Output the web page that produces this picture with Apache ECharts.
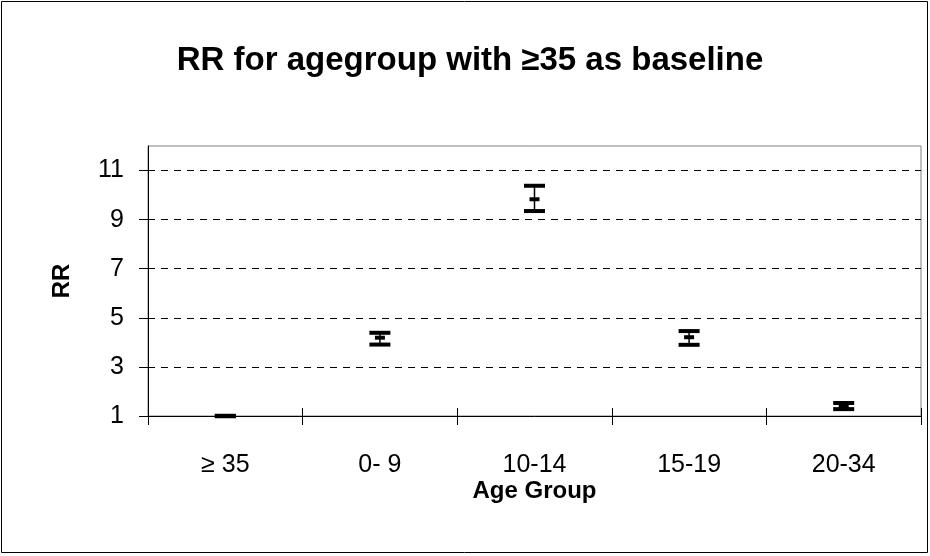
<!DOCTYPE html>
<html>
<head>
<meta charset="utf-8">
<script src="https://cdn.jsdelivr.net/npm/echarts@6/dist/echarts.min.js"></script>
<style>html,body{margin:0;padding:0;background:#fff}#c{width:930px;height:556px}</style>
</head>
<body>
<div id="c"></div>
<script>
const categories = ['\u2265 35', '0- 9', '10-14', '15-19', '20-34'];
const rrValues = [1.0, 4.19, 9.83, 4.21, 1.41];
const ciLow = [0.99, 3.91, 9.35, 3.90, 1.28];
const ciHigh = [1.01, 4.39, 10.38, 4.46, 1.53];
const yTicks = [1, 3, 5, 7, 9, 11];

const FONT = '"Liberation Sans", Arial, sans-serif';
const chart = echarts.init(document.getElementById('c'));
const data = categories.map((c, i) => [i, rrValues[i], ciLow[i], ciHigh[i]]);

chart.setOption({
  backgroundColor: '#fff',
  animation: false,
  title: {
    text: 'RR for agegroup with \u226535 as baseline',
    left: 465, top: 39, textAlign: 'center',
    textStyle: { fontFamily: FONT, fontSize: 33, fontWeight: 'bold', color: '#000' }
  },
  graphic: [{
    type: 'rect', shape: { x: 1.5, y: 1.5, width: 926, height: 551 },
    style: { fill: 'none', stroke: '#000', lineWidth: 1 }, silent: true, z: -1
  }],
  grid: { left: 148, right: 9, top: 146, bottom: 140, show: true, borderColor: '#808080', borderWidth: 1, backgroundColor: 'transparent' },
  xAxis: [{
    type: 'category', data: categories,
    name: 'Age Group', nameLocation: 'middle', nameGap: 59,
    nameTextStyle: { fontFamily: FONT, fontSize: 24, fontWeight: 'bold', color: '#000' },
    axisLine: { lineStyle: { color: '#000', width: 1 } },
    axisTick: { show: true, alignWithLabel: false, length: 9, lineStyle: { color: '#000' } },
    axisLabel: { fontFamily: FONT, fontSize: 25, color: '#000', margin: 37 },
    splitLine: { show: false }
  }, {
    type: 'category', data: categories, position: 'bottom',
    axisLine: { show: false },
    axisTick: { show: true, inside: true, length: 8, lineStyle: { color: '#000' } },
    axisLabel: { show: false }, splitLine: { show: false }
  }],
  yAxis: {
    type: 'value', min: 1, max: 12, interval: 2,
    name: 'RR', nameLocation: 'middle', nameGap: 74, nameRotate: 90,
    nameTextStyle: { fontFamily: FONT, fontSize: 24, fontWeight: 'bold', color: '#000' },
    axisLine: { show: true, lineStyle: { color: '#000', width: 1 } },
    axisTick: { show: true, length: 9, customValues: yTicks, lineStyle: { color: '#000' } },
    axisLabel: { fontFamily: FONT, fontSize: 25, color: '#000', margin: 24, customValues: yTicks },
    splitLine: { show: true, showMinLine: false, lineStyle: { color: '#000', type: [7, 6], width: 1 } }
  },
  series: [{
    type: 'custom',
    data: data,
    encode: { x: 0, y: [1, 2, 3] },
    renderItem: function (params, api) {
      const x = api.value(0);
      const pMid = api.coord([x, api.value(1)]);
      const pLow = api.coord([x, api.value(2)]);
      const pHigh = api.coord([x, api.value(3)]);
      const cx = pMid[0];
      const capW = 21, mW = 10, mH = 4;
      const st = { stroke: '#000', lineWidth: 4 };
      return {
        type: 'group',
        children: [
          { type: 'line', shape: { x1: cx, y1: pLow[1], x2: cx, y2: pHigh[1] }, style: { stroke: '#000', lineWidth: 1.5 } },
          { type: 'line', shape: { x1: cx - capW / 2, y1: pHigh[1], x2: cx + capW / 2, y2: pHigh[1] }, style: st },
          { type: 'line', shape: { x1: cx - capW / 2, y1: pLow[1], x2: cx + capW / 2, y2: pLow[1] }, style: st },
          { type: 'rect', shape: { x: cx - mW / 2, y: pMid[1] - mH / 2, width: mW, height: mH }, style: { fill: '#000' } }
        ]
      };
    }
  }]
});
</script>
</body>
</html>
